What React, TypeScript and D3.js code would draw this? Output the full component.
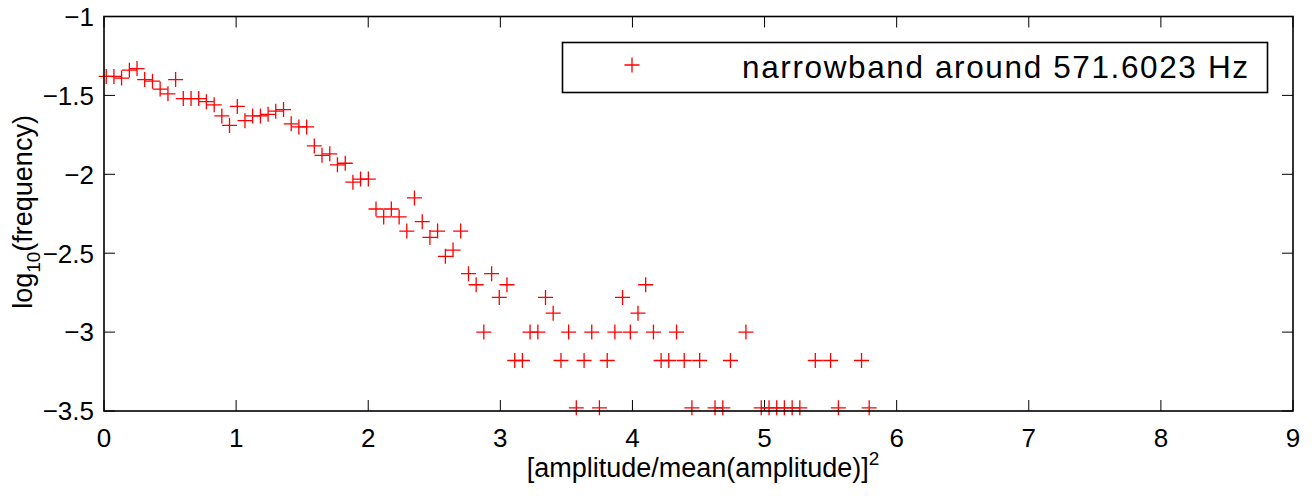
import React from 'react';
import * as d3 from 'd3';

// amplitude-squared bins (x) and log10(frequency) values (y)
const xValues = [
  0.017, 0.075, 0.133, 0.192, 0.250, 0.308, 0.367, 0.425, 0.484, 0.542,
  0.600, 0.659, 0.717, 0.775, 0.834, 0.892, 0.950, 1.009, 1.067, 1.125,
  1.184, 1.242, 1.300, 1.359, 1.417, 1.475, 1.534, 1.592, 1.650, 1.709,
  1.767, 1.826, 1.884, 1.942, 2.001, 2.059, 2.117, 2.175, 2.234, 2.292,
  2.350, 2.409, 2.467, 2.525, 2.584, 2.642, 2.700, 2.759, 2.817, 2.875,
  2.934, 2.992, 3.050, 3.109, 3.167, 3.225, 3.284, 3.342, 3.400, 3.459,
  3.517, 3.575, 3.634, 3.692, 3.750, 3.809, 3.867, 3.925, 3.984, 4.042,
  4.100, 4.159, 4.217, 4.275, 4.334, 4.392, 4.450, 4.509, 4.625, 4.684,
  4.742, 4.859, 4.975, 5.034, 5.092, 5.150, 5.209, 5.267, 5.384, 5.500,
  5.559, 5.734, 5.792,
];
const yValues = [
  -1.38, -1.38, -1.39, -1.34, -1.33, -1.40, -1.41, -1.46, -1.49, -1.40,
  -1.52, -1.52, -1.52, -1.54, -1.56, -1.63, -1.69, -1.57, -1.66, -1.63,
  -1.63, -1.62, -1.60, -1.59, -1.68, -1.70, -1.70, -1.82, -1.88, -1.87,
  -1.94, -1.93, -2.05, -2.03, -2.03, -2.22, -2.27, -2.22, -2.27, -2.36,
  -2.15, -2.30, -2.40, -2.36, -2.52, -2.48, -2.36, -2.63, -2.70, -3.00,
  -2.63, -2.78, -2.70, -3.18, -3.18, -3.00, -3.00, -2.78, -2.88, -3.18,
  -3.00, -3.48, -3.18, -3.00, -3.48, -3.18, -3.00, -2.78, -3.00, -2.88,
  -2.70, -3.00, -3.18, -3.18, -3.00, -3.18, -3.48, -3.18, -3.48, -3.48,
  -3.18, -3.00, -3.48, -3.48, -3.48, -3.48, -3.48, -3.48, -3.18, -3.18,
  -3.48, -3.18, -3.48,
];
const xTicks = [0, 1, 2, 3, 4, 5, 6, 7, 8, 9];
const yTicks = [-3.5, -3, -2.5, -2, -1.5, -1];
const legendLabel = 'narrowband around 571.6023 Hz';
const xLabel = '[amplitude/mean(amplitude)]';
const xLabelSup = '2';
const yLabelMain = 'log';
const yLabelSub = '10';
const yLabelRest = '(frequency)';

const FONT = '"Liberation Sans", Arial, Helvetica, sans-serif';

function fmt(v: number): string {
  const s = String(Math.abs(v));
  return v < 0 ? '\u2212' + s : s;
}

export default function App() {
  const W = 1315;
  const H = 496;
  const left = 104;
  const right = 1293;
  const top = 16.5;
  const bottom = 411;
  const tick = 11;
  const arm = 7.5;

  const x = d3.scaleLinear().domain([0, 9]).range([left, right]);
  const y = d3.scaleLinear().domain([-3.5, -1]).range([bottom, top]);

  const points = xValues.map((v, i) => ({ px: x(v), py: y(yValues[i]) }));

  const plus = (cx: number, cy: number, key: string | number) => (
    <path
      key={key}
      d={`M${cx - arm},${cy}H${cx + arm}M${cx},${cy - arm}V${cy + arm}`}
      stroke="#ff0000"
      strokeWidth={1.3}
      fill="none"
    />
  );

  return (
    <svg
      width={W}
      height={H}
      style={{ position: 'absolute', left: 0, top: 0, background: '#fff' }}
      fontFamily={FONT}
    >
      <rect x={0} y={0} width={W} height={H} fill="#fff" />
      {/* ticks */}
      {xTicks.map((t) => (
        <g key={'xt' + t}>
          <line x1={x(t)} x2={x(t)} y1={bottom} y2={bottom - tick} stroke="#000" strokeWidth={1} />
          <line x1={x(t)} x2={x(t)} y1={top} y2={top + tick} stroke="#000" strokeWidth={1} />
          <text x={x(t)} y={447} fontSize={26} textAnchor="middle" fill="#000">
            {fmt(t)}
          </text>
        </g>
      ))}
      {yTicks.map((t) => (
        <g key={'yt' + t}>
          <line x1={left} x2={left + tick} y1={y(t)} y2={y(t)} stroke="#000" strokeWidth={1} />
          <line x1={right} x2={right - tick} y1={y(t)} y2={y(t)} stroke="#000" strokeWidth={1} />
          <text x={94} y={y(t) + 9.3} fontSize={26} textAnchor="end" fill="#000">
            {fmt(t)}
          </text>
        </g>
      ))}
      {/* data */}
      <g>{points.map((p, i) => plus(p.px, p.py, i))}</g>
      {/* axes box */}
      <rect
        x={left}
        y={top}
        width={right - left}
        height={bottom - top}
        fill="none"
        stroke="#000"
        strokeWidth={1.6}
      />
      {/* legend */}
      <rect x={562.5} y={42.5} width={705} height={50} fill="#fff" stroke="#000" strokeWidth={1.6} />
      {plus(632, 65, 'legend')}
      <text
        x={742}
        y={77.5}
        fontSize={31.5}
        fill="#000"
        textLength={506}
        lengthAdjust="spacing"
      >
        {legendLabel}
      </text>
      {/* axis labels */}
      <text x={703} y={477} fontSize={27} textAnchor="middle" fill="#000">
        {xLabel}
        <tspan dy={-12} fontSize={19}>
          {xLabelSup}
        </tspan>
      </text>
      <text transform="translate(32,212) rotate(-90)" fontSize={27} textAnchor="middle" fill="#000">
        {yLabelMain}
        <tspan dy={8} fontSize={19}>
          {yLabelSub}
        </tspan>
        <tspan dy={-8}>{yLabelRest}</tspan>
      </text>
    </svg>
  );
}
